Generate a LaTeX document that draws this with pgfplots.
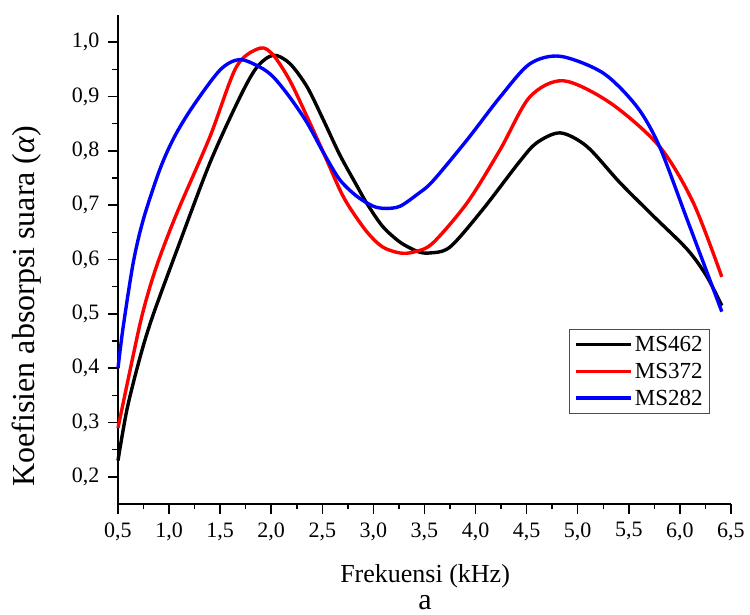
\documentclass[border=0pt]{standalone}
\usepackage{pgfplots}
\pgfplotsset{compat=1.18}
\usepackage{fontspec}
\setmainfont{Liberation Serif}
\begin{document}
\begin{tikzpicture}
\useasboundingbox (-118pt,-111pt) rectangle (632pt,504pt);
\begin{axis}[
  at={(0,0)}, anchor=south west,
  scale only axis, width=613pt, height=489pt,
  xmin=0.5, xmax=6.5, ymin=0.15, ymax=1.05,
  axis x line*=bottom, axis y line*=left,
  xtick={0.5,1.0,1.5,2.0,2.5,3.0,3.5,4.0,4.5,5.0,5.5,6.0,6.5},
  ytick={0.2,0.3,0.4,0.5,0.6,0.7,0.8,0.9,1.0},
  minor x tick num=1, minor y tick num=1,
  tick align=outside, major tick length=10pt, minor tick length=5.5pt,
  every tick/.style={black, line width=1.5pt},
  axis line style={line width=1.8pt},
  tick label style={font=\fontsize{22}{26}\selectfont,
    /pgf/number format/fixed, /pgf/number format/fixed zerofill,
    /pgf/number format/precision=1, /pgf/number format/use comma,
    /pgf/number format/assume math mode=true},
  xticklabel style={anchor=north, yshift=-5pt},
  yticklabel style={anchor=east, xshift=-5pt},
  xlabel={Frekuensi (kHz)},
  xlabel style={font=\fontsize{26}{31}\selectfont, at={(axis description cs:0.501,-0.147)}, anchor=center},
  ylabel={Koefisien absorpsi suara (\textit{α})},
  ylabel style={font=\fontsize{32}{38}\selectfont, at={(axis description cs:-0.1485,0.405)}, anchor=center},
  clip=false,
  legend style={at={(axis description cs:0.966,0.184)}, anchor=south east, draw=black!70, line width=0.9pt,
    font=\fontsize{23}{27}\selectfont, row sep=6pt, inner xsep=5pt, inner ysep=5pt},
  legend cell align=left,
  legend image code/.code={\draw[#1] (0pt,0pt) -- (55pt,0pt);},
  every axis plot/.append style={line width=3.4pt, smooth},
]
\addplot[black] coordinates {
(0.50,0.230) (0.59,0.326) (0.72,0.423) (0.84,0.496) (1.08,0.619) (1.40,0.778)
(1.694,0.899) (1.86,0.954) (2.02,0.976) (2.18,0.961) (2.35,0.918) (2.51,0.857)
(2.67,0.793) (2.84,0.735) (2.94,0.702) (3.09,0.661) (3.26,0.632) (3.43,0.615)
(3.55,0.612) (3.75,0.623) (4.07,0.692) (4.43,0.780) (4.60,0.815) (4.83,0.833)
(5.09,0.808) (5.41,0.742) (5.74,0.680) (6.07,0.619) (6.26,0.570) (6.41,0.515)
};
\addlegendentry{MS462}
\addplot[red] coordinates {
(0.50,0.290) (0.60,0.380) (0.72,0.485) (0.81,0.548) (0.91,0.605) (1.08,0.687)
(1.40,0.826) (1.66,0.955) (1.89,0.989) (2.02,0.976) (2.18,0.930) (2.35,0.863)
(2.51,0.797) (2.67,0.729) (2.77,0.695) (2.94,0.650) (3.09,0.623) (3.26,0.612)
(3.40,0.614) (3.58,0.630) (3.92,0.705) (4.24,0.802) (4.53,0.899) (4.86,0.929)
(5.32,0.888) (5.80,0.808) (6.13,0.705) (6.41,0.568)
};
\addlegendentry{MS372}
\addplot[blue] coordinates {
(0.50,0.400) (0.55,0.475) (0.65,0.595) (0.75,0.675) (0.91,0.766) (1.05,0.825)
(1.23,0.881) (1.50,0.949) (1.69,0.968) (1.89,0.954) (2.02,0.936) (2.18,0.899)
(2.35,0.852) (2.51,0.797) (2.67,0.747) (2.84,0.716) (3.00,0.698) (3.12,0.694)
(3.26,0.698) (3.43,0.720) (3.58,0.744) (3.92,0.821) (4.24,0.899) (4.53,0.960)
(4.83,0.974) (5.25,0.943) (5.58,0.881) (5.80,0.808) (6.07,0.674) (6.41,0.504)
};
\addlegendentry{MS282}
\node[font=\fontsize{30}{36}\selectfont] at (axis description cs:0.501,-0.202) {a};
\end{axis}
\end{tikzpicture}
\end{document}
